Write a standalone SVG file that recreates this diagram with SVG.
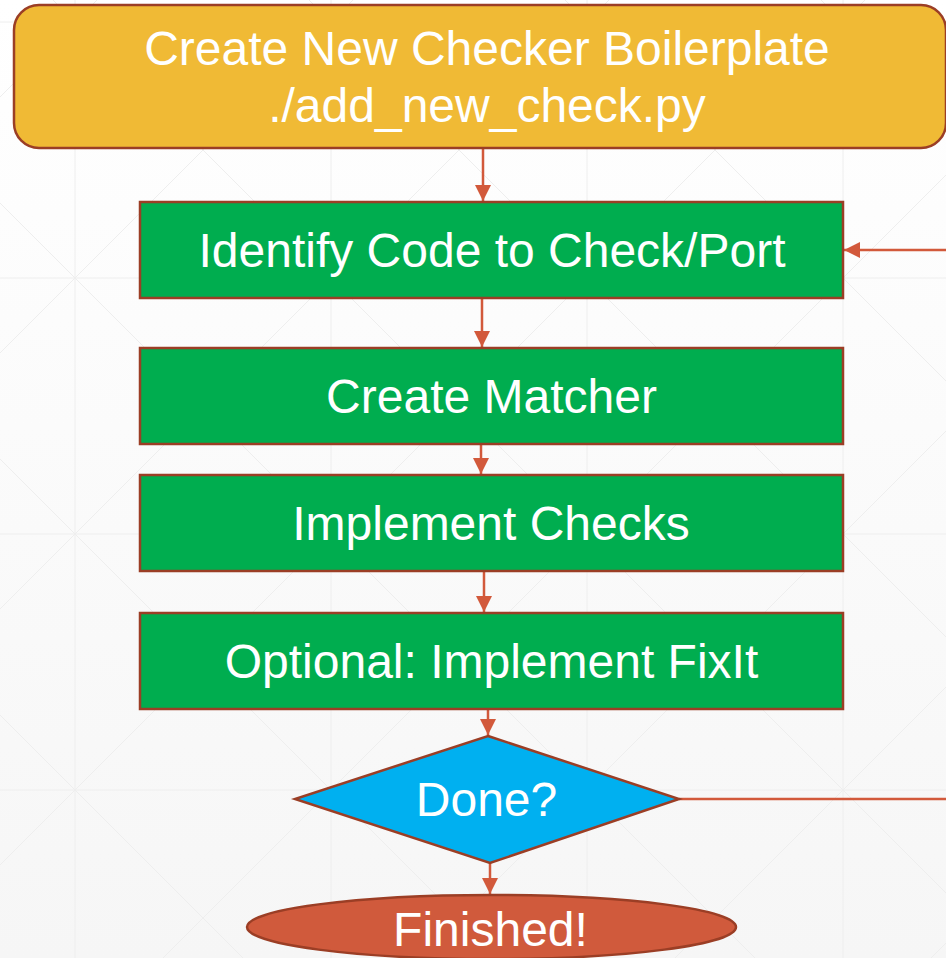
<svg xmlns="http://www.w3.org/2000/svg" width="946" height="958" viewBox="0 0 946 958">
  <defs>
    <linearGradient id="bg" x1="0" y1="0" x2="0" y2="1">
      <stop offset="0" stop-color="#ffffff"/>
      <stop offset="1" stop-color="#f6f6f6"/>
    </linearGradient>
    <marker id="arrow" viewBox="0 0 16 16" markerWidth="16" markerHeight="16" refX="16" refY="8" orient="auto" markerUnits="userSpaceOnUse">
      <path d="M0,0 L16,8 L0,16 Z" fill="#d2593b"/>
    </marker>
    <style>
      .grid { stroke: #eeeeee; stroke-width: 1; fill: none; }
      .node { stroke: #9b3e25; stroke-width: 2.5; }
      .label { font-family: "Liberation Sans", Arial, sans-serif; font-size: 48px; fill: #ffffff; text-anchor: middle; }
      .link { stroke: #d2593b; stroke-width: 2.5; fill: none; }
    </style>
  </defs>

  <!-- background with faint grid and diagonals -->
  <rect x="0" y="0" width="946" height="958" fill="url(#bg)"/>
  <g id="background-grid" class="grid">
    <path d="M75,0V958 M331,0V958 M587,0V958 M843,0V958"/>
    <path d="M0,22H946 M0,278H946 M0,534H946 M0,790H946"/>
    <!-- x - y = 53 + 256k -->
    <path d="M53,0L1011,958 M309,0L1267,958 M565,0L1523,958 M821,0L1779,958 M-203,0L755,958 M-459,0L499,958 M-715,0L243,958 M-971,0L-13,958"/>
    <!-- x + y = 97 + 256k -->
    <path d="M97,0L-861,958 M353,0L-605,958 M609,0L-349,958 M865,0L-93,958 M1121,0L163,958 M1377,0L419,958 M1633,0L675,958 M1889,0L931,958 M2145,0L1187,958"/>
  </g>

  <g id="connectors">
    <path class="link" d="M483,149V201" marker-end="url(#arrow)"/>
    <path class="link" d="M482,299V347" marker-end="url(#arrow)"/>
    <path class="link" d="M481,445V474" marker-end="url(#arrow)"/>
    <path class="link" d="M484,572V612" marker-end="url(#arrow)"/>
    <path class="link" d="M488,710V735" marker-end="url(#arrow)"/>
    <path class="link" d="M490,863V894" marker-end="url(#arrow)"/>
    <path class="link" d="M679,799H960V250H844" marker-end="url(#arrow)"/>
  </g>

  <g id="node-boilerplate">
    <rect class="node" x="14" y="5" width="932" height="143" rx="25" ry="25" fill="#f0ba35"/>
    <text class="label" x="487" y="65">Create New Checker Boilerplate</text>
    <text class="label" x="487" y="122">./add_new_check.py</text>
  </g>

  <g id="node-identify">
    <rect class="node" x="140" y="202" width="703" height="96" fill="#00ad4f"/>
    <text class="label" x="492" y="267">Identify Code to Check/Port</text>
  </g>

  <g id="node-matcher">
    <rect class="node" x="140" y="348" width="703" height="96" fill="#00ad4f"/>
    <text class="label" x="491.5" y="413">Create Matcher</text>
  </g>

  <g id="node-checks">
    <rect class="node" x="140" y="475" width="703" height="96" fill="#00ad4f"/>
    <text class="label" x="491" y="540">Implement Checks</text>
  </g>

  <g id="node-fixit">
    <rect class="node" x="140" y="613" width="703" height="96" fill="#00ad4f"/>
    <text class="label" x="491.5" y="678">Optional: Implement FixIt</text>
  </g>

  <g id="node-done">
    <polygon class="node" points="488,736 679,799 490,863 295,799" fill="#00b0f0"/>
    <text class="label" x="486.5" y="816">Done?</text>
  </g>

  <g id="node-finished">
    <ellipse class="node" cx="491.5" cy="927" rx="244.5" ry="32" fill="#d05a3c"/>
    <text class="label" x="490.5" y="946">Finished!</text>
  </g>
</svg>
